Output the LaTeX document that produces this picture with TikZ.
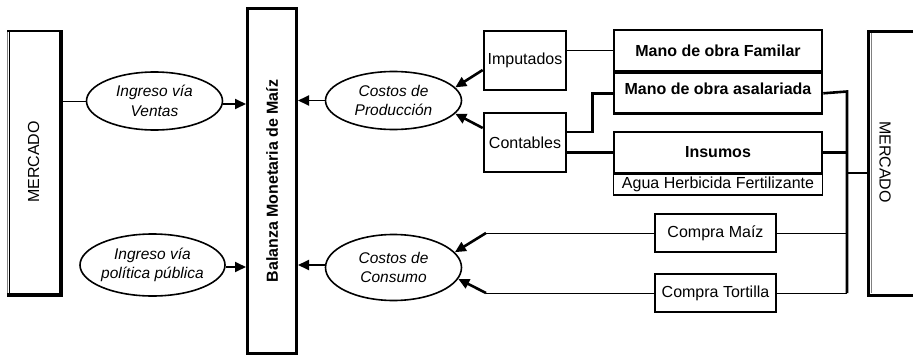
\documentclass[tikz,border=0pt]{standalone}
\usepackage{fontspec}
\setmainfont{Liberation Sans}
\usetikzlibrary{shapes.geometric,arrows.meta}
\begin{document}
\begin{tikzpicture}[x=1pt,y=-1pt,
  every node/.style={font=\fontsize{16}{19.5}\selectfont, inner sep=0pt},
  ell/.style={draw, ellipse, line width=1.6pt, align=center,
    font=\fontsize{15.5}{19.5}\selectfont\itshape},
  box/.style={draw, rectangle, line width=2.6pt},
  thinln/.style={line width=1pt},
  thickln/.style={line width=2.6pt},
  arr/.style={line width=1.8pt, -{Triangle[length=11pt,width=10pt]}},
  tarr/.style={line width=2.6pt, -{Triangle[length=11pt,width=10pt]}}
]
\useasboundingbox (0,0) rectangle (913,356);

% left MERCADO
\node[draw=gray, line width=0.8pt, minimum width=264pt, minimum height=53pt, rotate=90] (mercL) at (33.5,162) {MERCADO};
\draw[line width=4pt] (61,30) -- (61,295) -- (7,295);
\draw[line width=1.6pt] (7,31) -- (61,31);
\draw[line width=1pt] (9.5,31) -- (9.5,294);

% Balanza
\node[box, line width=3pt, minimum width=345pt, minimum height=49pt, rotate=90,
      font=\fontsize{16}{19.5}\selectfont\bfseries] (bal) at (272,181) {Balanza Monetaria de Maíz};

% ellipses
\node[ell, minimum width=136pt, minimum height=58pt] (ingV) at (154.5,101) {Ingreso vía\\Ventas};
\node[ell, minimum width=138pt, minimum height=62pt] (ingP) at (152.5,265) {Ingreso vía\\política pública};
\node[ell, minimum width=136pt, minimum height=58pt] (cProd) at (393.5,100.5) {Costos de\\Producción};
\node[ell, minimum width=136pt, minimum height=66pt] (cCons) at (393.5,267.5) {Costos de\\Consumo};

% boxes
\node[box, minimum width=82pt, minimum height=59pt] (imp) at (525,60.5) {Imputados};
\node[box, minimum width=82pt, minimum height=59pt] (cont) at (525,142.5) {Contables};
\node[box, minimum width=208pt, minimum height=41pt, font=\fontsize{16}{19.5}\selectfont\bfseries] (mof) at (718,50.5) {Mano de obra Familar};
\node[box, minimum width=208pt, minimum height=41pt, font=\fontsize{16}{19.5}\selectfont\bfseries, anchor=north] (moa) at (718,71) {\raisebox{8pt}{Mano de obra asalariada}};
\node[box, minimum width=208pt, minimum height=41pt, font=\fontsize{16}{19.5}\selectfont\bfseries] (ins) at (718,152.5) {Insumos};
\node[draw, line width=1.6pt, minimum width=209pt, minimum height=21pt, anchor=north] (agua) at (718,173) {Agua Herbicida Fertilizante};
\node[box, minimum width=121pt, minimum height=38pt] (cmaiz) at (715.5,233) {Compra Maíz};
\node[box, minimum width=121pt, minimum height=38pt] (ctort) at (715.5,293) {Compra Tortilla};

% right MERCADO
\node[draw, line width=1pt, minimum width=60pt, minimum height=263pt] (mercR) at (898,163) {};
\node[rotate=-90] (mercRt) at (885,162) {MERCADO};
\draw[line width=3pt] (930,31) -- (868,31) -- (868,295) -- (930,295);
\draw[gray, line width=0.8pt] (871.5,33) -- (871.5,293);

% bus
\coordinate (busT) at (847,91.5);
\coordinate (busB) at (847,293);
\coordinate (busM) at (847,173);

% connectors left side
\draw[thinln] (ingV.west -| mercL.south) -- (ingV.west);
\draw[arr] (ingV.east |- 0,104) -- (bal.north |- 0,104);
\draw[arr] (ingP.east |- 0,267) -- (bal.north |- 0,267);
\draw[arr] (cProd.west) -- (cProd.west -| bal.south);
\draw[arr] (cCons.west |- 0,265) -- (bal.south |- 0,265);

% production costs
\draw[tarr] ([yshift=-9.5pt]imp.west) -- (cProd.12);
\draw[tarr] ([yshift=14.5pt]cont.west) -- (cProd.-12);
\draw[thinln] (mof.west -| imp.east) -- (mof.west);
\draw[thickln] ([yshift=10.5pt]cont.east) -- ++(25,0) |- ([yshift=-0.5pt]moa.west);
\draw[thickln] (ins.west -| cont.east) -- (ins.west);

% right bus
\draw[thickln] ([yshift=-0.5pt]moa.east) -- (busT) -- (busB);
\draw[thickln] (ins.east) -- (ins.east -| busT);
\draw[thickln] (busM) -- (busM -| mercR.west);
\draw[thinln] (cmaiz.east) -- (cmaiz.east -| busT);
\draw[thinln] (ctort.east) -- (busB);

% consumption costs
\coordinate (cm1) at (486,233);
\coordinate (ct1) at (486,293);
\draw[thinln] (cmaiz.west) -- (cm1);
\draw[tarr] (cm1) -- (cCons.14);
\draw[thinln] (ctort.west) -- (ct1);
\draw[tarr] (ct1) -- (cCons.-10);
\end{tikzpicture}
\end{document}
